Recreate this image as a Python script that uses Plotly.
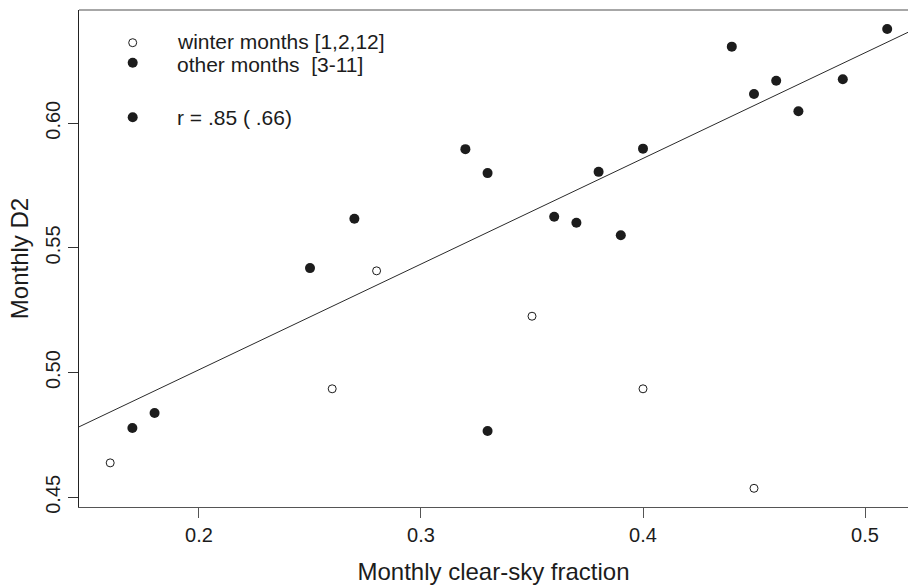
import plotly.graph_objects as go

# ---- data ----
winter_x = [0.16, 0.26, 0.28, 0.35, 0.40, 0.45]
winter_y = [0.4638, 0.4935, 0.5408, 0.5226, 0.4935, 0.4536]

other_x = [0.17, 0.18, 0.25, 0.27, 0.32, 0.33, 0.33, 0.36, 0.37, 0.38,
           0.39, 0.40, 0.44, 0.45, 0.46, 0.47, 0.49, 0.51]
other_y = [0.4778, 0.4838, 0.5419, 0.5617, 0.5896, 0.5800, 0.4766, 0.5625, 0.5601, 0.5805,
           0.5551, 0.5898, 0.6307, 0.6117, 0.6170, 0.6048, 0.6176, 0.6378]

fit_intercept = 0.4164
fit_slope = 0.4237

x_range = [0.14595, 0.51937]
y_range = [0.4461, 0.6454]
x_ticks = [0.2, 0.3, 0.4, 0.5]
x_ticklabels = ["0.2", "0.3", "0.4", "0.5"]
y_ticks = [0.45, 0.50, 0.55, 0.60]
y_ticklabels = ["0.45", "0.50", "0.55", "0.60"]

legend_labels = ["winter months [1,2,12]", "other months  [3-11]", "r = .85 ( .66)"]
legend_filled = [False, True, True]

FONT = "Liberation Sans, Arial, Helvetica, sans-serif"
INK = "#1c1c1c"

fig = go.Figure()

fit_x = list(x_range)
fit_y = [fit_intercept + fit_slope * v for v in fit_x]
fig.add_trace(go.Scatter(x=fit_x, y=fit_y, mode="lines",
                         line=dict(color="#2a2a2a", width=1), hoverinfo="skip"))

fig.add_trace(go.Scatter(x=winter_x, y=winter_y, mode="markers",
                         marker=dict(size=8, color="white", line=dict(color=INK, width=1))))
fig.add_trace(go.Scatter(x=other_x, y=other_y, mode="markers",
                         marker=dict(size=10, color=INK, line=dict(width=0))))

# legend (drawn on an overlay axis measured in pixels of the plot area)
W, H = 829, 497
leg_marker_rows = [32.7, 52.7, 107.3]   # distance from plot top
leg_text_rows = [31.5, 54.0, 107.3]
leg_marker_px = 53.7                    # distance from plot left
leg_text_px = 96.5
for lab, filled, mrow, trow in zip(legend_labels, legend_filled, leg_marker_rows, leg_text_rows):
    fig.add_trace(go.Scatter(
        x=[leg_marker_px], y=[H - mrow], xaxis="x2", yaxis="y2", mode="markers",
        marker=dict(size=10 if filled else 8, color=INK if filled else "white",
                    line=dict(color=INK, width=0 if filled else 1)),
        hoverinfo="skip"))
    fig.add_annotation(x=leg_text_px, y=H - trow, xref="x2", yref="y2", text=lab,
                       showarrow=False, xanchor="left", yanchor="middle", borderpad=0,
                       font=dict(family=FONT, size=21, color=INK))

fig.update_layout(
    width=908, height=587,
    margin=dict(l=79, r=0, t=10, b=80, pad=0),
    paper_bgcolor="white", plot_bgcolor="white",
    showlegend=False,
    font=dict(family=FONT, size=21, color=INK),
    xaxis=dict(range=x_range, tickvals=x_ticks, ticktext=x_ticklabels,
               showgrid=False, zeroline=False, showline=True, linecolor="#555555",
               linewidth=1.2, ticks="outside", ticklen=10, tickcolor="#555555",
               tickfont=dict(size=20, color=INK),
               title=dict(text="Monthly clear-sky fraction", font=dict(size=24, color=INK),
                          standoff=18)),
    yaxis=dict(range=y_range, tickvals=y_ticks, ticktext=y_ticklabels,
               showgrid=False, zeroline=False, showline=True, linecolor="#222222",
               linewidth=1.2, ticks="outside", ticklen=10, tickcolor="#333333",
               tickangle=-90, tickfont=dict(size=20, color=INK),
               title=dict(text="Monthly D2", font=dict(size=24, color=INK), standoff=6)),
    xaxis2=dict(range=[0, W], overlaying="x", visible=False, fixedrange=True),
    yaxis2=dict(range=[0, H], overlaying="y", visible=False, fixedrange=True),
    shapes=[dict(type="line", xref="paper", yref="paper", x0=0, x1=1, y0=1, y1=1,
                 line=dict(color="#8a8a8a", width=1.5))],
)

fig.write_html("out.html")
